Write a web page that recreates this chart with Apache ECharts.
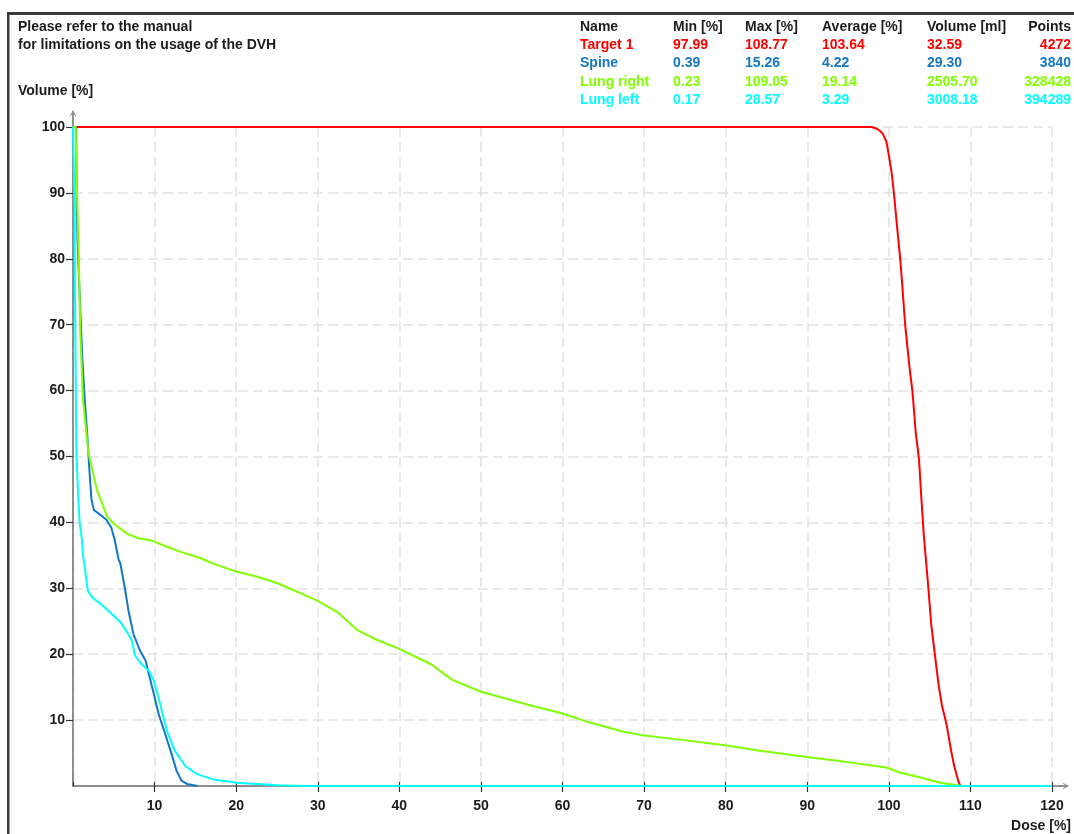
<!DOCTYPE html>
<html>
<head>
<meta charset="utf-8">
<title>DVH</title>
<script src="https://cdn.jsdelivr.net/npm/echarts@6/dist/echarts.min.js"></script>
<style>
  html, body { margin: 0; padding: 0; background: #ffffff; }
  #chart { width: 1074px; height: 834px; }
</style>
</head>
<body>
<div id="chart"></div>
<script>
// Cumulative dose-volume histograms: [dose %, volume %]
const targetCurve = [[0,100],[97.9,100],[98.6,99.7],[99.2,99.1],[99.7,97.8],[100.1,95.0],[100.4,92.5],[100.7,89.0],[101.0,85.0],[101.4,79.9],[101.6,76.8],[102.0,70.0],[102.5,63.9],[102.9,59.8],[103.3,53.6],[103.7,49.6],[104.0,43.4],[104.3,37.8],[104.8,30.7],[105.2,24.5],[105.6,20.4],[106.1,15.3],[106.5,12.3],[107.1,9.2],[107.6,5.6],[108.0,3.1],[108.5,0.8],[108.77,0]];
const spineCurve = [[0,100],[0.39,100],[0.43,92],[0.5,86],[0.55,83],[0.74,76.8],[0.9,71.8],[1.15,64.7],[1.44,58.6],[1.73,53.6],[1.98,48.5],[2.26,43.5],[2.55,41.9],[3.3,41.2],[4.1,40.4],[4.7,39.2],[5.1,37.4],[5.6,34.3],[5.8,33.8],[6.4,29.7],[6.8,26.6],[7.4,23.1],[8.2,20.6],[8.9,19.0],[9.3,17.0],[9.9,14.0],[10.5,10.9],[11.3,7.9],[12.1,4.8],[12.7,2.3],[13.3,0.8],[14.0,0.3],[15.26,0]];
const lungRightCurve = [[0,100],[0.23,100],[0.33,100],[0.41,94],[0.6,85],[0.73,78.8],[0.9,68.7],[1.23,58.6],[1.9,50.5],[2.94,44.9],[4.17,40.9],[5.2,39.6],[6.6,38.3],[8.0,37.6],[9.5,37.3],[11.5,36.3],[13.0,35.6],[15.6,34.6],[17.5,33.6],[20.1,32.5],[22.5,31.8],[25.0,30.8],[27.8,29.3],[30.0,28.1],[32.5,26.3],[34.8,23.7],[37.2,22.2],[40.0,20.8],[44.0,18.4],[45.6,16.9],[46.5,16.1],[50.0,14.3],[55.9,12.3],[60.0,11.0],[62.9,9.8],[67.6,8.2],[69.8,7.7],[74.6,7.0],[79.9,6.2],[84.0,5.4],[89.9,4.4],[94.5,3.7],[99.7,2.8],[101.2,2.1],[103.9,1.3],[106.3,0.5],[108.4,0.1],[109.05,0]];
const lungLeftCurve = [[0,100],[0.17,100],[0.2,88],[0.22,80],[0.25,73.8],[0.33,62],[0.41,51],[0.6,45],[0.82,39.9],[1.1,37.3],[1.25,34.8],[1.5,32.7],[1.8,29.7],[2.3,28.7],[3.8,27.2],[5.8,24.9],[6.6,23.4],[7.2,22.1],[7.6,19.8],[8.4,18.5],[9.3,17.5],[9.9,16.0],[10.7,12.4],[11.5,8.4],[12.5,5.3],[13.8,3.0],[15.2,1.8],[17.2,1.0],[20.1,0.5],[25.0,0.1],[28.57,0],[120,0]];

// Structure statistics table
const structNames = ['Target 1', 'Spine', 'Lung right', 'Lung left'];
const structColors = ['#ff0000', '#1477c4', '#80ff00', '#00ffff'];
const minDose = ['97.99', '0.39', '0.23', '0.17'];
const maxDose = ['108.77', '15.26', '109.05', '28.57'];
const avgDose = ['103.64', '4.22', '19.14', '3.29'];
const volumeMl = ['32.59', '29.30', '2505.70', '3008.18'];
const pointCount = ['4272', '3840', '328428', '394289'];
const tableHeaders = ['Name', 'Min [%]', 'Max [%]', 'Average [%]', 'Volume [ml]', 'Points'];

const FONT = 'bold 14px "Liberation Sans", Arial, sans-serif';
const INK = '#1c1c1c';

const chart = echarts.init(document.getElementById('chart'), null, { renderer: 'canvas' });

// table layout
const colX = [580, 673, 745, 822, 927, 1071];
const colAlign = ['left', 'left', 'left', 'left', 'left', 'right'];
const rowY0 = 27, rowStep = 18.3;

const texts = [];
function addText(str, x, y, color, align) {
  texts.push({
    type: 'text', x: x, y: y, silent: true, z: 10,
    style: { text: str, font: FONT, fill: color, align: align || 'left', verticalAlign: 'middle' }
  });
}
addText('Please refer to the manual', 18, 27, INK);
addText('for limitations on the usage of the DVH', 18, 45, INK);
addText('Volume [%]', 18, 91, INK);
addText('Dose [%]', 1071, 826, INK, 'right');
tableHeaders.forEach((h, c) => addText(h, colX[c], rowY0, INK, colAlign[c]));
const columns = [structNames, minDose, maxDose, avgDose, volumeMl, pointCount];
structNames.forEach((n, r) => {
  columns.forEach((col, c) => addText(col[r], colX[c], rowY0 + rowStep * (r + 1), structColors[r], colAlign[c]));
});

// window frame
const frame = [
  { type: 'rect', shape: { x: 7, y: 12, width: 1080, height: 3 }, style: { fill: '#3a3a3a' }, silent: true, z: 10 },
  { type: 'rect', shape: { x: 7, y: 12, width: 2.5, height: 830 }, style: { fill: '#3a3a3a' }, silent: true, z: 10 }
];

const arrowPath = 'path://M5,0 L10,10 L8.6,10 L5,2.6 L1.4,10 L0,10 Z';
const dashGrid = { show: true, lineStyle: { color: '#e2e2e2', width: 1.5, type: [10, 5] } };
const axisFont = { fontFamily: '"Liberation Sans", Arial, sans-serif', fontWeight: 'bold', fontSize: 14, color: INK };

function lineSeries(name, data, color) {
  return {
    name: name, type: 'line', data: data, xAxisIndex: 0, yAxisIndex: 0,
    showSymbol: false, symbol: 'none', smooth: false, animation: false,
    lineStyle: { color: color, width: 2 }, z: 3
  };
}

chart.setOption({
  backgroundColor: '#ffffff',
  animation: false,
  grid: [
    { left: 73, right: 22, top: 127, bottom: 48, containLabel: false, outerBoundsMode: 'none' },
    { left: 73, right: 8, top: 113, bottom: 48, containLabel: false, outerBoundsMode: 'none' }
  ],
  xAxis: [
    {
      type: 'value', gridIndex: 0, min: 0, max: 120, interval: 10,
      axisLine: { show: false },
      axisTick: { show: true, length: 6, lineStyle: { color: '#333333', width: 1.2 } },
      axisLabel: Object.assign({ show: true, margin: 13, showMinLabel: false, align: 'center' }, axisFont),
      splitLine: dashGrid
    },
    {
      type: 'value', gridIndex: 0, min: 0, max: 120, interval: 10, position: 'bottom',
      axisLine: { show: false },
      axisTick: { show: true, inside: true, length: 4, lineStyle: { color: '#333333', width: 1.2 } },
      axisLabel: { show: false }, splitLine: { show: false }
    },
    {
      type: 'value', gridIndex: 1, min: 0, max: 1,
      axisLine: { show: true, symbol: ['none', arrowPath], symbolSize: [6, 9], lineStyle: { color: '#6e6e6e', width: 1.5 } },
      axisTick: { show: false }, axisLabel: { show: false }, splitLine: { show: false }
    }
  ],
  yAxis: [
    {
      type: 'value', gridIndex: 0, min: 0, max: 100, interval: 10,
      axisLine: { show: false },
      axisTick: { show: true, length: 7, lineStyle: { color: '#333333', width: 1.2 } },
      axisLabel: Object.assign({ show: true, margin: 8, showMinLabel: false }, axisFont),
      splitLine: dashGrid
    },
    {
      type: 'value', gridIndex: 1, min: 0, max: 1,
      axisLine: { show: true, symbol: ['none', arrowPath], symbolSize: [6, 9], lineStyle: { color: '#6e6e6e', width: 1.5 } },
      axisTick: { show: false }, axisLabel: { show: false }, splitLine: { show: false }
    }
  ],
  series: [
    lineSeries('Target 1', targetCurve, structColors[0]),
    lineSeries('Spine', spineCurve, structColors[1]),
    lineSeries('Lung right', lungRightCurve, structColors[2]),
    lineSeries('Lung left', lungLeftCurve, structColors[3])
  ],
  graphic: { elements: frame.concat(texts) }
});
</script>
</body>
</html>
